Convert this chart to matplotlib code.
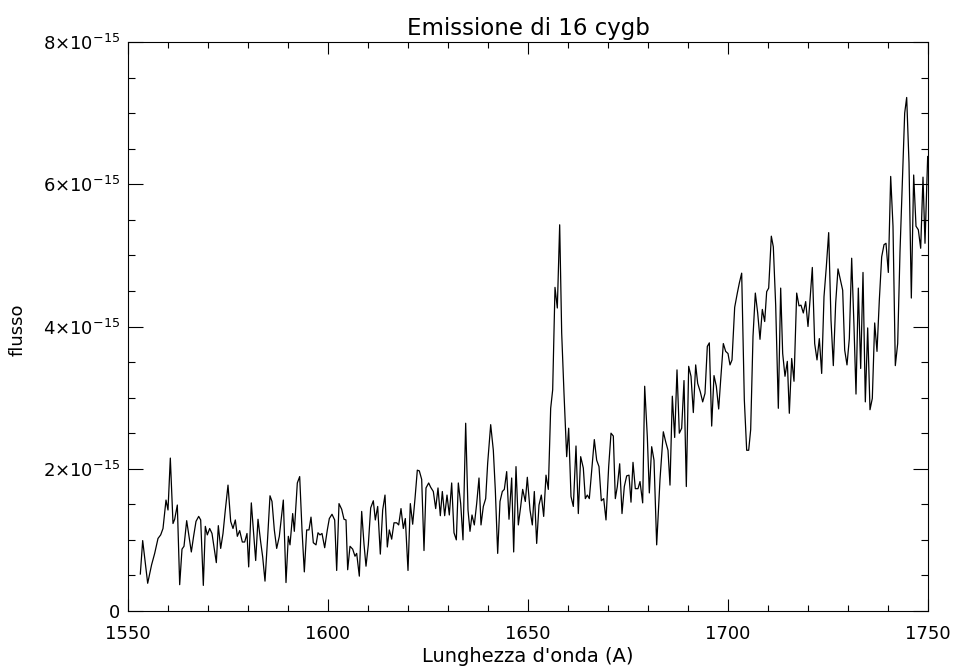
import matplotlib
matplotlib.use("Agg")
import matplotlib.pyplot as plt
from matplotlib.ticker import FixedLocator, FuncFormatter
import numpy as np

# spectrum of 16 Cyg B: wavelength (A) and flux (units of 1e-15)
wave = [
    1553.08, 1553.67, 1554.92, 1555.90, 1556.67, 1557.50, 1558.17, 1558.75, 1559.50, 1560.00,
    1560.58, 1561.25, 1561.67, 1562.33, 1562.92, 1563.50, 1564.00, 1564.67, 1565.25, 1565.83,
    1566.40, 1567.00, 1567.67, 1568.17, 1568.83, 1569.33, 1569.83, 1570.42, 1571.00, 1571.50,
    1572.08, 1572.58, 1573.17, 1573.75, 1574.33, 1575.00, 1575.67, 1576.25, 1576.83, 1577.33,
    1577.92, 1578.58, 1579.17, 1579.75, 1580.17, 1580.83, 1581.92, 1582.50, 1583.17, 1583.67,
    1584.25, 1584.90, 1585.50, 1586.00, 1586.58, 1587.17, 1587.83, 1588.33, 1588.83, 1589.50,
    1590.08, 1590.50, 1591.17, 1591.58, 1592.33, 1592.92, 1593.50, 1594.08, 1594.67, 1595.25,
    1595.75, 1596.33, 1597.00, 1597.50, 1598.00, 1598.50, 1599.17, 1599.83, 1600.33, 1601.00,
    1601.67, 1602.17, 1602.75, 1603.42, 1604.00, 1604.50, 1604.92, 1605.50, 1606.17, 1606.75,
    1607.17, 1607.83, 1608.42, 1609.00, 1609.50, 1610.08, 1610.67, 1611.33, 1611.83, 1612.42,
    1613.08, 1613.67, 1614.25, 1614.83, 1615.33, 1615.92, 1616.50, 1617.17, 1617.67, 1618.25,
    1618.83, 1619.33, 1620.00, 1620.58, 1621.17, 1621.75, 1622.33, 1622.83, 1623.42, 1624.00,
    1624.50, 1625.17, 1625.67, 1626.33, 1626.92, 1627.50, 1628.08, 1628.58, 1629.17, 1629.75,
    1630.33, 1630.92, 1631.50, 1632.08, 1632.58, 1633.17, 1633.75, 1634.42, 1635.00, 1635.50,
    1636.00, 1636.58, 1637.17, 1637.75, 1638.25, 1638.83, 1639.42, 1639.92, 1640.67, 1641.33,
    1641.83, 1642.42, 1643.00, 1643.58, 1644.08, 1644.67, 1645.25, 1645.92, 1646.42, 1647.00,
    1647.58, 1648.17, 1648.67, 1649.33, 1649.83, 1650.50, 1651.08, 1651.58, 1652.17, 1652.75,
    1653.33, 1653.92, 1654.50, 1655.08, 1655.67, 1656.17, 1656.75, 1657.33, 1657.92, 1658.42,
    1659.00, 1659.67, 1660.17, 1660.75, 1661.33, 1662.00, 1662.58, 1663.17, 1663.83, 1664.33,
    1664.83, 1665.33, 1666.00, 1666.58, 1667.17, 1667.75, 1668.33, 1668.92, 1669.50, 1670.17,
    1670.75, 1671.33, 1671.83, 1672.33, 1672.92, 1673.50, 1674.08, 1674.67, 1675.25, 1675.75,
    1676.25, 1676.83, 1677.50, 1678.00, 1678.67, 1679.17, 1679.83, 1680.33, 1680.92, 1681.50,
    1682.17, 1683.00, 1683.83, 1684.42, 1685.00, 1685.50, 1686.08, 1686.67, 1687.25, 1687.83,
    1688.42, 1689.00, 1689.58, 1690.17, 1690.75, 1691.33, 1691.92, 1692.42, 1693.08, 1693.67,
    1694.25, 1694.83, 1695.33, 1695.92, 1696.50, 1697.08, 1697.67, 1698.17, 1698.83, 1699.42,
    1700.00, 1700.50, 1701.00, 1701.67, 1702.33, 1702.83, 1703.42, 1704.08, 1704.67, 1705.17,
    1705.67, 1706.25, 1706.83, 1707.42, 1708.00, 1708.58, 1709.17, 1709.67, 1710.17, 1710.83,
    1711.33, 1711.92, 1712.58, 1713.17, 1713.67, 1714.25, 1714.83, 1715.33, 1715.92, 1716.50,
    1717.17, 1717.75, 1718.25, 1718.83, 1719.42, 1720.00, 1720.50, 1721.08, 1721.67, 1722.25,
    1722.83, 1723.42, 1724.00, 1724.58, 1725.17, 1725.75, 1726.33, 1726.92, 1727.50, 1728.08,
    1728.67, 1729.17, 1729.75, 1730.33, 1730.92, 1731.50, 1732.00, 1732.58, 1733.17, 1733.75,
    1734.33, 1734.92, 1735.50, 1736.08, 1736.67, 1737.25, 1737.83, 1738.42, 1739.00, 1739.50,
    1740.08, 1740.67, 1741.25, 1741.83, 1742.42, 1743.00, 1743.58, 1744.17, 1744.67, 1745.25,
    1745.83, 1746.42, 1747.00, 1747.58, 1748.17, 1748.75, 1749.25, 1749.92,
]
flux = [
    0.52, 0.99, 0.39, 0.65, 0.81, 1.02, 1.07, 1.16, 1.56, 1.42,
    2.15, 1.23, 1.29, 1.49, 0.37, 0.87, 0.91, 1.27, 1.05, 0.83,
    1.05, 1.26, 1.33, 1.28, 0.36, 1.19, 1.07, 1.16, 1.09, 0.90,
    0.68, 1.20, 0.88, 1.09, 1.42, 1.77, 1.26, 1.16, 1.28, 1.05,
    1.13, 0.97, 0.97, 1.09, 0.62, 1.52, 0.71, 1.29, 0.97, 0.76,
    0.42, 1.02, 1.62, 1.54, 1.14, 0.88, 1.05, 1.30, 1.56, 0.40,
    1.05, 0.93, 1.37, 1.12, 1.80, 1.89, 1.14, 0.55, 1.14, 1.14,
    1.32, 0.96, 0.93, 1.10, 1.07, 1.09, 0.89, 1.14, 1.30, 1.36,
    1.28, 0.57, 1.51, 1.43, 1.29, 1.28, 0.58, 0.91, 0.87, 0.77,
    0.81, 0.49, 1.40, 0.94, 0.63, 0.93, 1.45, 1.55, 1.28, 1.47,
    0.80, 1.42, 1.63, 0.90, 1.14, 1.01, 1.24, 1.24, 1.21, 1.44,
    1.16, 1.30, 0.57, 1.51, 1.22, 1.58, 1.98, 1.97, 1.85, 0.85,
    1.73, 1.80, 1.74, 1.68, 1.44, 1.73, 1.34, 1.68, 1.34, 1.63,
    1.35, 1.80, 1.10, 1.00, 1.80, 1.51, 1.00, 2.64, 1.42, 1.12,
    1.35, 1.21, 1.51, 1.87, 1.21, 1.47, 1.58, 2.08, 2.62, 2.26,
    1.70, 0.81, 1.54, 1.68, 1.71, 1.96, 1.29, 1.87, 0.83, 2.03,
    1.21, 1.47, 1.71, 1.54, 1.88, 1.42, 1.21, 1.68, 0.95, 1.49,
    1.63, 1.33, 1.91, 1.71, 2.85, 3.11, 4.55, 4.26, 5.43, 3.91,
    3.06, 2.17, 2.57, 1.61, 1.47, 2.32, 1.37, 2.17, 2.01, 1.58,
    1.63, 1.58, 2.03, 2.41, 2.12, 2.03, 1.55, 1.58, 1.28, 2.03,
    2.50, 2.46, 1.58, 1.75, 2.07, 1.37, 1.75, 1.90, 1.91, 1.53,
    2.09, 1.72, 1.72, 1.82, 1.52, 3.16, 2.45, 1.66, 2.31, 2.12,
    0.93, 1.85, 2.52, 2.38, 2.26, 1.77, 3.02, 2.44, 3.39, 2.50,
    2.57, 3.24, 1.75, 3.44, 3.30, 2.79, 3.46, 3.20, 3.08, 2.94,
    3.06, 3.72, 3.77, 2.60, 3.31, 3.16, 2.84, 3.25, 3.76, 3.65,
    3.62, 3.46, 3.53, 4.27, 4.47, 4.61, 4.75, 2.97, 2.26, 2.26,
    2.55, 3.86, 4.47, 4.19, 3.82, 4.24, 4.07, 4.49, 4.54, 5.27,
    5.12, 4.30, 2.85, 4.54, 3.62, 3.30, 3.51, 2.78, 3.55, 3.23,
    4.47, 4.29, 4.30, 4.19, 4.35, 4.00, 4.37, 4.83, 3.76, 3.53,
    3.83, 3.34, 4.42, 4.84, 5.32, 4.09, 3.45, 4.33, 4.81, 4.66,
    4.51, 3.67, 3.46, 3.83, 4.96, 4.00, 3.05, 4.54, 3.41, 4.76,
    2.94, 3.98, 2.83, 2.99, 4.05, 3.65, 4.37, 4.98, 5.15, 5.17,
    4.76, 6.11, 5.41, 3.45, 3.76, 5.05, 6.04, 7.00, 7.22, 6.30,
    4.40, 6.13, 5.41, 5.36, 5.10, 6.10, 5.17, 6.39,
]

# axis ticks
x_major = [1550, 1600, 1650, 1700, 1750]
y_major = [0, 2, 4, 6, 8]

plt.rcParams['font.family'] = ['DejaVu Sans']
plt.rcParams['mathtext.default'] = 'regular'

wave = np.array(wave)
flux = np.array(flux) * 1e-15

fig = plt.figure(figsize=(9.57, 6.72), dpi=100)
ax = fig.add_axes([128 / 957, 61 / 672, 800 / 957, 569 / 672])

ax.plot(wave, flux, color='black', lw=0.9)

ax.set_xlim(1550, 1750)
ax.set_ylim(0, 8e-15)

ax.xaxis.set_major_locator(FixedLocator(x_major))
ax.xaxis.set_minor_locator(FixedLocator(np.arange(1560, 1750, 10)))
ax.yaxis.set_major_locator(FixedLocator([v * 1e-15 for v in y_major]))
ax.yaxis.set_minor_locator(FixedLocator(np.arange(0.5, 8, 0.5) * 1e-15))


def flux_label(v, pos):
    n = v / 1e-15
    if abs(n) < 1e-6:
        return '0'
    return '%d×10$^{-15}$' % round(n)


ax.yaxis.set_major_formatter(FuncFormatter(flux_label))

ax.tick_params(which='both', direction='in', top=True, right=True,
               labelsize=13, colors='black', width=0.8)
ax.tick_params(axis='x', which='major', length=8.5, pad=10)
ax.tick_params(axis='x', which='minor', length=4)
ax.tick_params(axis='y', which='major', length=11, pad=6)
ax.tick_params(axis='y', which='minor', length=5)

for s in ax.spines.values():
    s.set_linewidth(0.8)

ax.set_title("Emissione di 16 cygb", fontsize=16.5, pad=5)
ax.set_xlabel("Lunghezza d'onda (A)", fontsize=14, labelpad=3)
fig.text(18 / 957, 1 - 330 / 672, "flusso", rotation=90,
         ha='center', va='center', fontsize=13)

fig.savefig("out.png", dpi=100)
